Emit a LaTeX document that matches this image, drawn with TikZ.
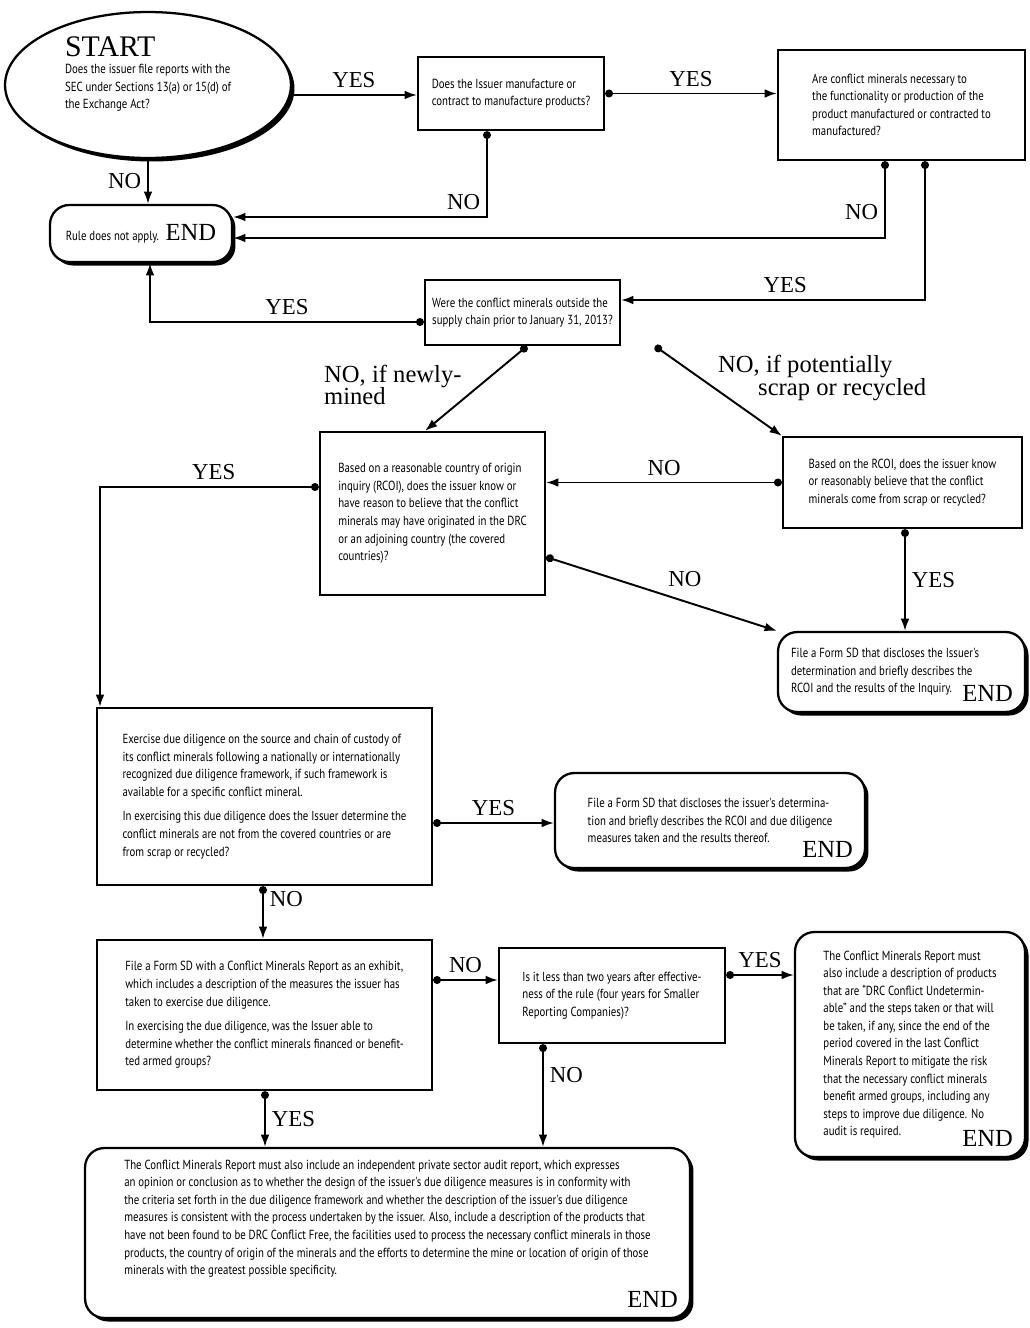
\documentclass[tikz,border=0pt]{standalone}
\usepackage{fontspec}
\usetikzlibrary{arrows.meta,shapes.geometric,shadows}
\newfontfamily\boxfont[FakeStretch=0.82]{PT Sans}
\newfontfamily\lblfont{Liberation Serif}

\begin{document}
\begin{tikzpicture}[x=0.02cm,y=-0.02cm,
  qbox/.style={draw,line width=1.3pt,fill=white,align=left,inner sep=3pt,font=\boxfont\fontsize{7.5}{10}\selectfont},
  endbox/.style={qbox,rounded corners=11pt,drop shadow={shadow xshift=2pt,shadow yshift=-2pt,fill=black,opacity=1}},
  lbl/.style={font=\lblfont\fontsize{13}{13}\selectfont},
  bigl/.style={font=\lblfont\fontsize{14}{13}\selectfont,align=left},
  endlbl/.style={font=\lblfont\fontsize{14}{14}\selectfont,anchor=south east,xshift=-4pt,yshift=3pt},
  flow/.style={line width=1.1pt,-{Latex[length=7pt,width=5pt]}},
  dotflow/.style={line width=1.1pt,{Circle[length=4.5pt]}-{Latex[length=7pt,width=5pt]}}]
\useasboundingbox (0,0) rectangle (1029,1328);

\node[draw,ellipse,line width=1.3pt,fill=white,drop shadow={shadow xshift=2pt,shadow yshift=-2pt,fill=black,opacity=1},
  minimum width=5.72cm,minimum height=2.92cm,inner sep=0pt,align=left,font=\boxfont\fontsize{7.5}{10}\selectfont] (start) at (148,85)
  {{\lblfont\fontsize{17}{18}\selectfont START}\\Does the issuer file reports with the\\SEC under Sections 13(a) or 15(d) of\\the Exchange Act?\\[4pt]};

\node[qbox,minimum width=3.72cm,minimum height=1.46cm] (manuf) at (511,93.5)
  {Does the Issuer manufacture or\\contract to manufacture products?};
\node[qbox,minimum width=4.94cm,minimum height=2.2cm] (necess) at (901.5,105)
  {Are conflict minerals necessary to\\the functionality or production of the\\product manufactured or contracted to\\manufactured?};
\node[endbox,minimum width=3.64cm,minimum height=1.14cm] (rule) at (141,233.5)
  {Rule does not apply.\enspace{\lblfont\fontsize{14}{14}\selectfont END}};
\node[qbox,minimum width=3.9cm,minimum height=1.3cm] (were) at (522.5,312.5)
  {Were the conflict minerals outside the\\supply chain prior to January 31, 2013?};
\node[qbox,minimum width=4.5cm,minimum height=3.26cm] (rcoi) at (432.5,513.5)
  {Based on a reasonable country of origin\\inquiry (RCOI), does the issuer know or\\have reason to believe that the conflict\\minerals may have originated in the DRC\\or an adjoining country (the covered\\countries)?};
\node[qbox,minimum width=4.78cm,minimum height=1.82cm] (scrap) at (902.5,482.5)
  {Based on the RCOI, does the issuer know\\or reasonably believe that the conflict\\minerals come from scrap or recycled?};
\node[endbox,minimum width=4.94cm,minimum height=1.6cm,label={[endlbl]south east:END}] (sd1) at (901.5,672)
  {File a Form SD that discloses the Issuer's\\determination and briefly describes the\\RCOI and the results of the Inquiry.\hspace*{1.2cm}};
\node[qbox,minimum width=6.7cm,minimum height=3.54cm] (exer) at (264.5,796.5)
  {Exercise due diligence on the source and chain of custody of\\its conflict minerals following a nationally or internationally\\recognized due diligence framework, if such framework is\\available for a specific conflict mineral.\\[4pt]In exercising this due diligence does the Issuer determine the\\conflict minerals are not from the covered countries or are\\from scrap or recycled?};
\node[endbox,minimum width=6.2cm,minimum height=1.9cm,label={[endlbl]south east:END}] (sd2) at (710,820.5)
  {File a Form SD that discloses the issuer's determina-\\tion and briefly describes the RCOI and due diligence\\measures taken and the results thereof.};
\node[qbox,minimum width=6.7cm,minimum height=3cm] (cmr) at (264.5,1015)
  {File a Form SD with a Conflict Minerals Report as an exhibit,\\which includes a description of the measures the issuer has\\taken to exercise due diligence.\\[4pt]In exercising the due diligence, was the Issuer able to\\determine whether the conflict minerals financed or benefit-\\ted armed groups?};
\node[qbox,minimum width=4.52cm,minimum height=1.9cm] (two) at (612,995.5)
  {Is it less than two years after effective-\\ness of the rule (four years for Smaller\\Reporting Companies)?};
\node[endbox,minimum width=4.6cm,minimum height=4.5cm,label={[endlbl]south east:END}] (undet) at (910,1044.5)
  {The Conflict Minerals Report must\\also include a description of products\\that are “DRC Conflict Undetermin-\\able” and the steps taken or that will\\be taken, if any, since the end of the\\period covered in the last Conflict\\Minerals Report to mitigate the risk\\that the necessary conflict minerals\\benefit armed groups, including any\\steps to improve due diligence. No\\audit is required.\hspace*{1.4cm}};
\node[endbox,minimum width=12.1cm,minimum height=3.4cm,label={[endlbl]south east:END}] (audit) at (387.5,1233)
  {The Conflict Minerals Report must also include an independent private sector audit report, which expresses\\an opinion or conclusion as to whether the design of the issuer's due diligence measures is in conformity with\\the criteria set forth in the due diligence framework and whether the description of the issuer's due diligence\\measures is consistent with the process undertaken by the issuer. Also, include a description of the products that\\have not been found to be DRC Conflict Free, the facilities used to process the necessary conflict minerals in those\\products, the country of origin of the minerals and the efforts to determine the mine or location of origin of those\\minerals with the greatest possible specificity.\\[8pt]};

\node[bigl,anchor=west] (lnew) at (318,385) {NO, if newly-\\mined};
\node[bigl,anchor=west] (lscrap) at (712,378) {NO, if potentially\\\hspace*{0.8cm}scrap or recycled};

\draw[flow] (start.-4) -- (manuf.west |- start.-4) node[lbl,midway,above] (y1) {YES};
\draw[dotflow] (manuf.east) -- (necess.west |- manuf.east) node[lbl,midway,above] (y2) {YES};
\draw[flow] (start.south) -- (rule.north -| start.south) node[lbl,midway,left] (n1) {NO};
\draw[dotflow] (manuf.south -| 487,0) |- (rule.east |- 0,217) node[lbl,pos=0.5,above left] (n2) {NO};
\draw[dotflow] (necess.south -| 885,0) |- (rule.east |- 0,238) node[lbl,pos=0.33,left] (n3) {NO};
\draw[dotflow] (necess.south -| 925,0) |- (were.east |- 0,300) node[lbl,pos=0.73,above] (y3) {YES};
\draw[dotflow] (were.west |- 0,322) -| (rule.south -| 150,0) node[lbl,pos=0.25,above] (y4) {YES};

\draw[dotflow] (were.south -| 527,0) -- (rcoi.north -| 425,0);
\draw[dotflow] (were.south -| 655,0) -- (scrap.north west);
\draw[dotflow] (scrap.west) -- (rcoi.east |- scrap.west) node[lbl,midway,above] (n4) {NO};
\draw[dotflow] (rcoi.west |- 0,487) -| (exer.north -| 100,0) node[lbl,pos=0.24,above] (y5) {YES};
\draw[dotflow] (rcoi.east |- 0,557) -- (sd1.north west) node[lbl,midway,above right] (n5) {NO};
\draw[dotflow] (scrap.south -| 905,0) -- (sd1.north -| 905,0) node[lbl,midway,right] (y6) {YES};

\draw[dotflow] (exer.east |- 0,823) -- (sd2.west |- 0,823) node[lbl,midway,above] (y7) {YES};
\draw[dotflow] (exer.south -| 263,0) -- (cmr.north -| 263,0) node[lbl,pos=0.25,right] (n6) {NO};
\draw[dotflow] (cmr.east |- 0,980) -- (two.west |- 0,980) node[lbl,midway,above] (n7) {NO};
\draw[dotflow] (two.east |- 0,975) -- (undet.west |- 0,975) node[lbl,midway,above] (y8) {YES};
\draw[dotflow] (two.south -| 543,0) -- (audit.north -| 543,0) node[lbl,pos=0.3,right] (n8) {NO};
\draw[dotflow] (cmr.south -| 265,0) -- (audit.north -| 265,0) node[lbl,midway,right] (y9) {YES};

\end{tikzpicture}
\end{document}
